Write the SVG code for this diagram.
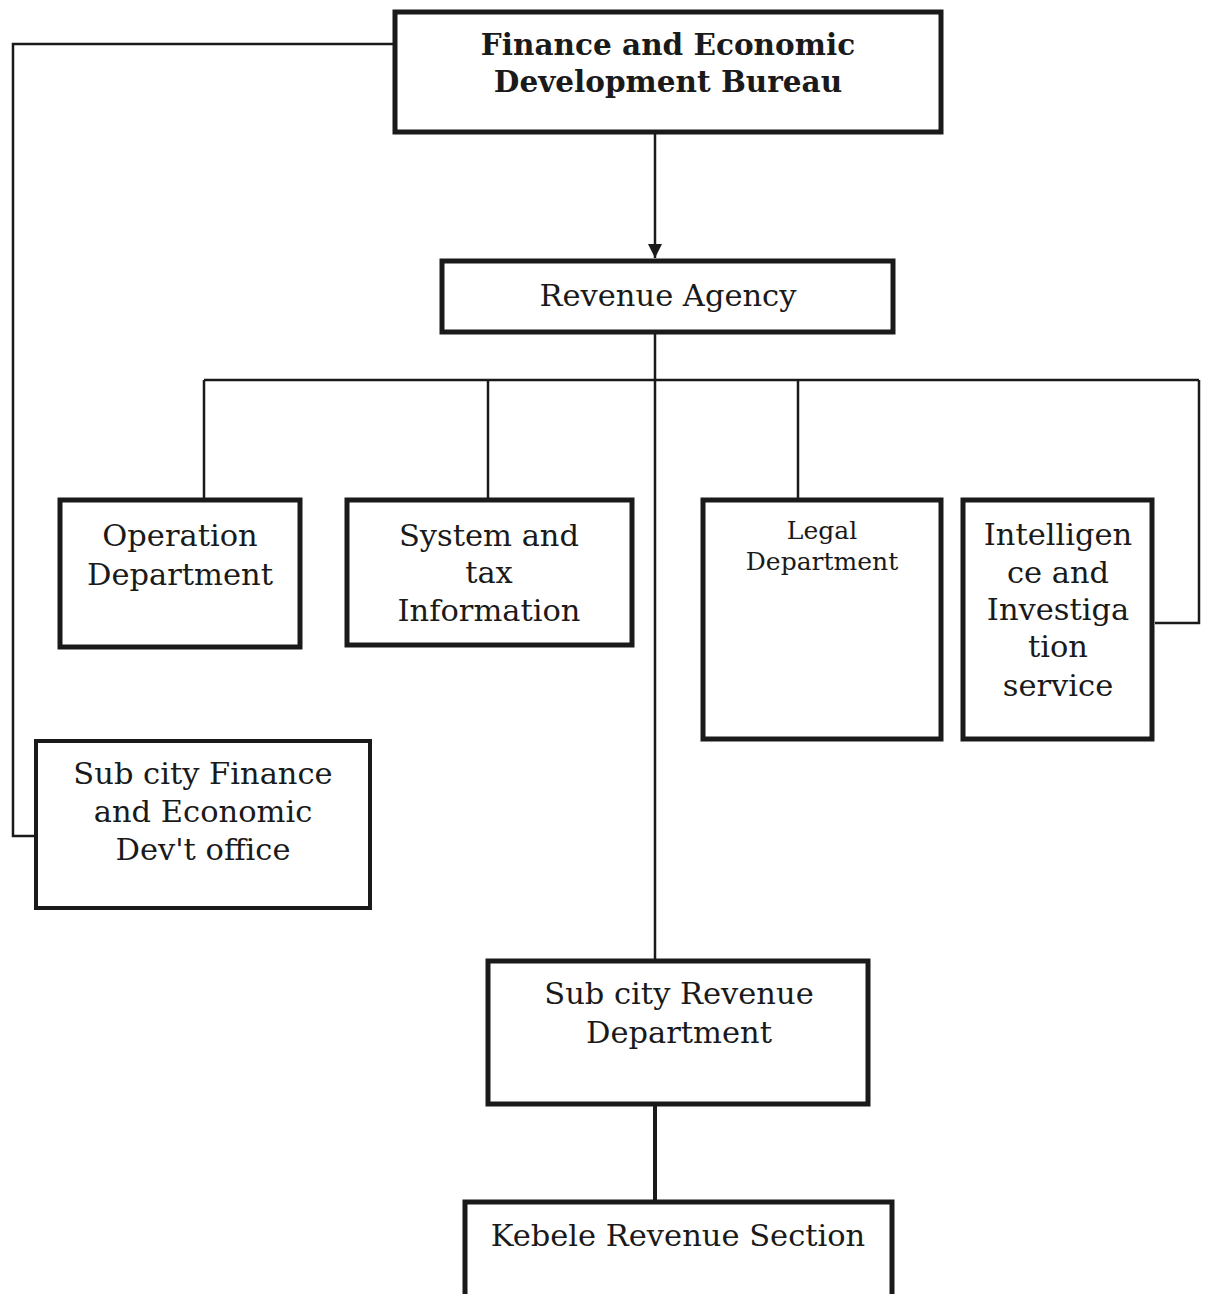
<svg xmlns="http://www.w3.org/2000/svg" width="1207" height="1294" viewBox="0 0 1207 1294">
<style>
.box{fill:#fff;stroke:#1a1a1a;stroke-width:5}
.c{fill:none;stroke:#1a1a1a;stroke-width:2.5}
.t{font-family:"DejaVu Serif","Liberation Serif",serif;font-size:30.5px;fill:#1a1a1a;text-anchor:middle}
.b{font-family:"DejaVu Serif","Liberation Serif",serif;font-size:29.5px;font-weight:bold;fill:#1a1a1a;text-anchor:middle}
.s{font-family:"DejaVu Serif","Liberation Serif",serif;font-size:25px;fill:#1a1a1a;text-anchor:middle}
</style>
<defs>
<marker id="arr" viewBox="0 0 10 10" refX="10" refY="5" markerWidth="14" markerHeight="14" markerUnits="userSpaceOnUse" orient="auto">
<path d="M0,0 L10,5 L0,10 Z" fill="#1a1a1a"/>
</marker>
</defs>
<rect width="1207" height="1294" fill="#fff"/>
<g id="connectors">
<polyline class="c" points="393,44 13,44 13,836 35,836"/>
<line class="c" x1="655" y1="133" x2="655" y2="258" marker-end="url(#arr)"/>
<line class="c" x1="655" y1="333" x2="655" y2="960"/>
<line class="c" x1="204" y1="380" x2="1199" y2="380"/>
<line class="c" x1="204" y1="380" x2="204" y2="499"/>
<line class="c" x1="488" y1="380" x2="488" y2="499"/>
<line class="c" x1="798" y1="380" x2="798" y2="499"/>
<polyline class="c" points="1199,380 1199,623 1155,623"/>
<line class="c" x1="655" y1="1105" x2="655" y2="1200" style="stroke-width:4"/>
</g>
<g id="finance-bureau">
<rect class="box" x="395" y="12" width="546" height="120"/>
<text class="b" x="668" y="55">Finance and Economic</text>
<text class="b" x="668" y="92">Development Bureau</text>
</g>
<g id="revenue-agency">
<rect class="box" x="442" y="261" width="451" height="71"/>
<text class="t" x="668" y="306">Revenue Agency</text>
</g>
<g id="operation">
<rect class="box" x="60" y="500" width="240" height="147"/>
<text class="t" x="180" y="546">Operation</text>
<text class="t" x="180" y="585">Department</text>
</g>
<g id="system-tax">
<rect class="box" x="347" y="500" width="285" height="145"/>
<text class="t" x="489" y="546">System and</text>
<text class="t" x="489" y="583">tax</text>
<text class="t" x="489" y="621">Information</text>
</g>
<g id="legal">
<rect class="box" x="703" y="500" width="238" height="239"/>
<text class="s" x="822" y="539">Legal</text>
<text class="s" x="822" y="570">Department</text>
</g>
<g id="intelligence">
<rect class="box" x="963" y="500" width="189" height="239"/>
<text class="t" x="1058" y="545">Intelligen</text>
<text class="t" x="1058" y="583">ce and</text>
<text class="t" x="1058" y="620">Investiga</text>
<text class="t" x="1058" y="657">tion</text>
<text class="t" x="1058" y="696">service</text>
</g>
<g id="subcity-finance">
<rect class="box" x="36" y="741" width="334" height="167" style="stroke-width:4"/>
<text class="t" x="203" y="784">Sub city Finance</text>
<text class="t" x="203" y="822">and Economic</text>
<text class="t" x="203" y="860">Dev't office</text>
</g>
<g id="subcity-revenue">
<rect class="box" x="488" y="961" width="380" height="143"/>
<text class="t" x="679" y="1004">Sub city Revenue</text>
<text class="t" x="679" y="1043">Department</text>
</g>
<g id="kebele">
<rect class="box" x="465" y="1202" width="427" height="100"/>
<text class="t" x="678" y="1246">Kebele Revenue Section</text>
</g>
</svg>
